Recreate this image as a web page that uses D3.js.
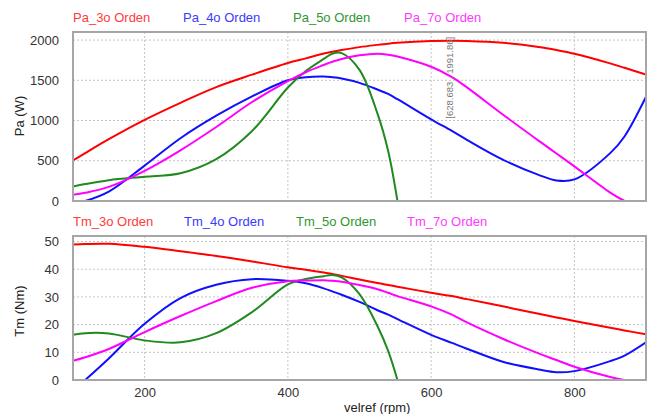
<!DOCTYPE html>
<html><head><meta charset="utf-8">
<script src="https://cdn.jsdelivr.net/npm/d3@7"></script>
<style>
html,body{margin:0;padding:0;background:#fff;}
text{font-family:"Liberation Sans",Arial,sans-serif;}
</style></head>
<body>
<svg id="chart" width="654" height="414"></svg>
<script>
// ---- data ----
const rpm = [100,117,150,200,250,300,350,400,425,450,462,475,500,525,540,553,600,629,650,700,750,775,800,850,870,900];

const pa3 = [503,595,768,1008,1220,1415,1570,1715,1772,1832,1855,1876,1912,1940,1955,1965,1987,1991.9,1989,1966,1914,1876,1830,1710,1655,1570];
const pa4 = [0,0,118,440,780,1060,1300,1501,1538,1547,1538,1522,1468,1385,1330,1265,1015,870,760,515,325,255,268,595,802,1295];
const pa5 = [179,210,259,302,345,520,870,1410,1615,1765,1830,1838,1630,1089,622,0,0,0,0,0,0,0,0,0,0,0];
const pa7 = [78,102,175,375,630,920,1230,1490,1600,1690,1730,1765,1810,1830,1818,1795,1668,1540,1412,1075,750,590,430,105,0,0];

const tm3 = [48.9,49.1,49.2,48.1,46.5,44.8,42.8,40.7,39.8,38.8,38.3,37.6,36.3,35.0,34.3,33.7,31.5,30.3,29.2,26.6,23.9,22.6,21.3,18.9,17.9,16.5];
const tm4 = [0,0,7.8,20.3,29.6,34.4,36.4,35.8,34.9,33.1,32.0,30.8,28.2,25.2,23.6,22.0,16.3,13.4,11.3,6.6,3.8,2.8,3.2,6.8,8.8,13.6];
const tm5 = [16.3,16.9,16.8,14.3,13.6,16.9,24.5,34.5,36.5,37.5,37.9,37.1,31.0,19.5,10.5,0,0,0,0,0,0,0,0,0,0,0];
const tm7 = [6.9,8.2,11.2,17.3,23.1,28.5,33.3,35.7,35.9,36.0,35.8,35.5,34.3,32.8,31.5,30.3,26.6,23.6,20.8,14.9,9.6,7.2,4.8,1.1,0,0];

const xTicks = [200,400,600,800];
const paTicks = [0,500,1000,1500,2000];
const tmTicks = [0,10,20,30,40,50];

const paNames = ["Pa_3o Orden","Pa_4o Orden","Pa_5o Orden","Pa_7o Orden"];
const tmNames = ["Tm_3o Orden","Tm_4o Orden","Tm_5o Orden","Tm_7o Orden"];
const lineColors = ["#ff0000","#1010ff","#1f8a1f","#ff00ff"];
const textColors = ["#ff3a3a","#3a3aff","#2f962f","#ff3aff"];
const peakX = 628.683, peakY = 1991.86;
const annotation = "[628.683 , 1991.86]";

// ---- layout ----
const svg = d3.select("#chart");
const L = 73, R = 646;
const x = d3.scaleLinear().domain([100,900]).range([L,R]);

// split a series into smooth positive runs and flat zero runs
function pieces(s) {
  const n = s.length, out = [];
  let i = 0;
  while (i < n) {
    if (s[i] > 0) {
      let j = i; while (j + 1 < n && s[j + 1] > 0) j++;
      const a = Math.max(0, i - 1), b = Math.min(n - 1, j + 1);
      out.push({smooth: true, idx: d3.range(a, b + 1)});
      i = j + 1;
    } else {
      let j = i; while (j + 1 < n && !(s[j + 1] > 0)) j++;
      if (j > i) out.push({smooth: false, idx: d3.range(i, j + 1)});
      i = j + 1;
    }
  }
  return out;
}

function panel(top, bottom, yDomain, yTicks, series, names, legendY, legendXs, ylabel, ylabelY, id) {
  const y = d3.scaleLinear().domain(yDomain).range([bottom, top]);
  svg.append("clipPath").attr("id", id).append("rect")
     .attr("x", L).attr("y", top).attr("width", R-L).attr("height", bottom-top+1);
  const g = svg.append("g");
  g.selectAll(".gx").data(xTicks).join("line")
    .attr("x1", d=>x(d)).attr("x2", d=>x(d)).attr("y1", top).attr("y2", bottom)
    .attr("stroke","#c4c4c4").attr("stroke-dasharray","2,2").attr("stroke-width",1);
  g.selectAll(".gy").data(yTicks).join("line")
    .attr("x1", L).attr("x2", R).attr("y1", d=>y(d)).attr("y2", d=>y(d))
    .attr("stroke","#c4c4c4").attr("stroke-dasharray","2,2").attr("stroke-width",1);
  const ya = d3.axisLeft(y).tickValues(yTicks).tickSize(0).tickPadding(14).tickFormat(d3.format("d"));
  const yg = svg.append("g").attr("transform",`translate(${L},0)`).call(ya);
  yg.select(".domain").remove();
  yg.selectAll("text").attr("font-size",13).attr("fill","#333")
    .attr("font-family","Liberation Sans, Arial, sans-serif");
  const smooth = d3.line().x(i=>x(rpm[i])).curve(d3.curveCatmullRom.alpha(0.5));
  const flat = d3.line().x(i=>x(rpm[i]));
  series.forEach((s,k)=>{
    pieces(s).forEach(p=>{
      const gen = p.smooth ? smooth : flat;
      gen.y(i=>y(s[i]));
      g.append("path").attr("d", gen(p.idx)).attr("fill","none")
       .attr("stroke", lineColors[k]).attr("stroke-width",2)
       .attr("clip-path",`url(#${id})`);
    });
  });
  svg.append("rect").attr("x",L).attr("y",top).attr("width",R-L).attr("height",bottom-top)
    .attr("fill","none").attr("stroke","#a6a6a6").attr("stroke-width",2);
  names.forEach((n,k)=>{
    svg.append("text").attr("x",legendXs[k]).attr("y",legendY).text(n)
      .attr("font-size",13).attr("fill",textColors[k]);
  });
  svg.append("text").attr("transform",`translate(24,${ylabelY}) rotate(-90)`)
    .attr("text-anchor","middle").attr("font-size",13).attr("fill","#222").text(ylabel);
  return y;
}

const yPa = panel(32, 201, [0,2100], paTicks, [pa3,pa4,pa5,pa7], paNames, 22, [73,183,293,404], "Pa (W)", 116, "clipTop");
const yTm = panel(236, 380, [0,52], tmTicks, [tm3,tm4,tm5,tm7], tmNames, 226, [73,184,296,407], "Tm (Nm)", 311, "clipBot");

const xa = d3.axisBottom(x).tickValues(xTicks).tickSize(0).tickPadding(8).tickFormat(d3.format("d"));
const xg = svg.append("g").attr("transform",`translate(0,380)`).call(xa);
xg.select(".domain").remove();
xg.selectAll("text").attr("font-size",13).attr("fill","#333")
  .attr("font-family","Liberation Sans, Arial, sans-serif");
svg.append("text").attr("x",344).attr("y",412).attr("font-size",13).attr("fill","#222").text("velref (rpm)");

// annotation at peak of Pa_3o
svg.append("text").attr("transform",`translate(${x(peakX)+1},${yPa(peakY)+78}) rotate(-90)`)
  .attr("font-size",9.5).attr("fill","#777").text(annotation);
</script>
</body></html>
